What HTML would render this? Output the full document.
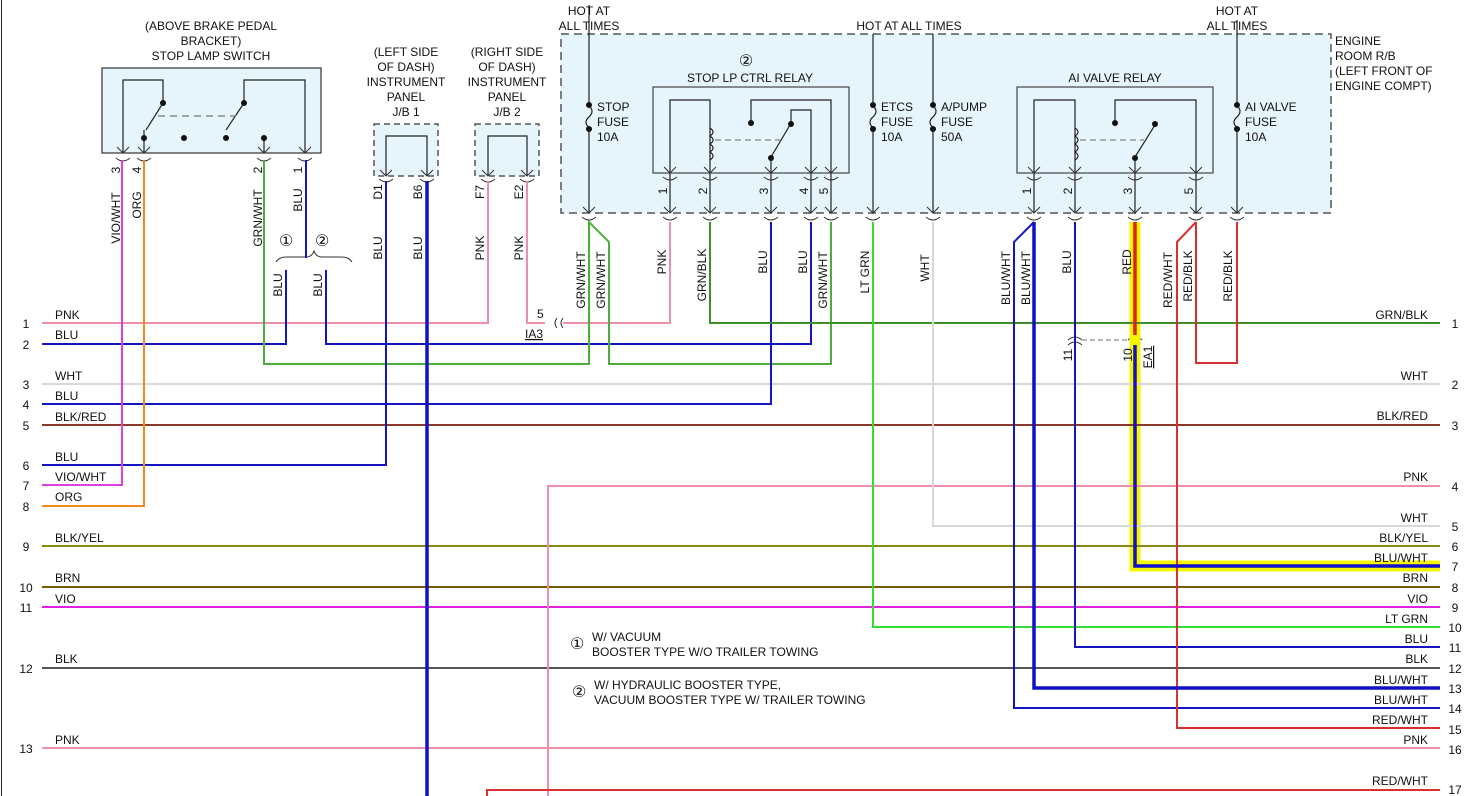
<!DOCTYPE html>
<html><head><style>
html,body{margin:0;padding:0;background:#fff;}
svg{display:block;font-family:"Liberation Sans",sans-serif;}
text{font-size:12px;fill:#111;}
.c{font-size:16px;}
</style></head><body>
<svg width="1468" height="796" viewBox="0 0 1468 796" xmlns="http://www.w3.org/2000/svg">
<rect x="0" y="0" width="1468" height="796" fill="#fff"/>
<line x1="1.5" y1="0" x2="1.5" y2="796" stroke="#222" stroke-width="1"/>

<rect x="102" y="68" width="219" height="85" fill="#e6f4fb" stroke="#333" stroke-width="1.2"/>
<rect x="374" y="124" width="64" height="52" fill="#e6f4fb" stroke="#555" stroke-width="1.5" stroke-dasharray="6,4"/>
<rect x="475" y="124" width="64" height="52" fill="#e6f4fb" stroke="#555" stroke-width="1.5" stroke-dasharray="6,4"/>
<rect x="561" y="34" width="770" height="179" fill="#e6f4fb" stroke="#555" stroke-width="1.5" stroke-dasharray="8,5"/>
<rect x="653" y="87" width="196" height="86" fill="#e6f4fb" stroke="#444" stroke-width="1.2"/>
<rect x="1017" y="87" width="196" height="86" fill="#e6f4fb" stroke="#444" stroke-width="1.2"/>

<g stroke="#222" stroke-width="1.2" fill="none">
<path d="M123 153 V80 H163 V103"/><path d="M163 103 L146 130"/>
<path d="M305 153 V80 H244 V103"/><path d="M244 103 L226 130"/>
<path d="M144 130 V153"/><path d="M264 138 V153"/>
<line x1="158" y1="116" x2="236" y2="116" stroke-dasharray="7,5" stroke="#777"/>
<path d="M386 176 V136 H427 V176"/><path d="M488 176 V136 H527 V176"/>
<line x1="589" y1="5" x2="589" y2="213"/><line x1="873" y1="34" x2="873" y2="213"/>
<line x1="933" y1="34" x2="933" y2="213"/><line x1="1237" y1="20" x2="1237" y2="213"/>
<path d="M670 213 V100 H710 V213"/>
<path d="M710 128 q6 4 0 8 q6 4 0 8 q6 4 0 8 q6 4 0 8"/>
<path d="M751 123 V100 H831 V213"/><path d="M791 124 V110 H811 V213"/>
<path d="M771 157 L790 125"/><path d="M771 157 V213"/>
<line x1="715" y1="140" x2="780" y2="140" stroke="#888" stroke-dasharray="6,4"/>
<path d="M1034 213 V100 H1075 V213"/>
<path d="M1075 128 q6 4 0 8 q6 4 0 8 q6 4 0 8 q6 4 0 8"/>
<path d="M1115 123 V100 H1196 V213"/>
<path d="M1135 157 L1155 125"/><path d="M1135 157 V213"/>
<line x1="1080" y1="140" x2="1144" y2="140" stroke="#888" stroke-dasharray="6,4"/>
</g>
<g stroke="none"><rect x="585" y="106" width="8" height="22" fill="#e6f4fb"/><rect x="869" y="106" width="8" height="22" fill="#e6f4fb"/><rect x="929" y="106" width="8" height="22" fill="#e6f4fb"/><rect x="1233" y="106" width="8" height="22" fill="#e6f4fb"/></g>
<g stroke="#222" stroke-width="1.2" fill="none">
<path d="M589 106 q6 5 0 11 q-6 5 0 11"/><path d="M873 106 q6 5 0 11 q-6 5 0 11"/><path d="M933 106 q6 5 0 11 q-6 5 0 11"/><path d="M1237 106 q6 5 0 11 q-6 5 0 11"/>
</g>
<g fill="#111">
<circle cx="589" cy="105" r="3"/><circle cx="589" cy="129" r="3"/><circle cx="873" cy="105" r="3"/><circle cx="873" cy="129" r="3"/><circle cx="933" cy="105" r="3"/><circle cx="933" cy="129" r="3"/><circle cx="1237" cy="105" r="3"/><circle cx="1237" cy="129" r="3"/>
<circle cx="163" cy="103" r="3"/><circle cx="244" cy="103" r="3"/><circle cx="144" cy="138" r="3"/><circle cx="184" cy="138" r="3"/><circle cx="226" cy="138" r="3"/><circle cx="264" cy="138" r="3"/>
<circle cx="751" cy="123" r="3"/><circle cx="791" cy="124" r="3"/><circle cx="771" cy="158" r="3"/>
<circle cx="1115" cy="123" r="3"/><circle cx="1155" cy="124" r="3"/><circle cx="1135" cy="158" r="3"/>
</g>

<g stroke="#333" stroke-width="1" fill="none">
<path d="M117 147 L123 153 L129 147 M138 147 L144 153 L150 147 M258 147 L264 153 L270 147 M299 147 L305 153 L311 147"/>
<path d="M116 158 q7 6 14 0 M137 158 q7 6 14 0 M257 158 q7 6 14 0 M298 158 q7 6 14 0"/>
<path d="M380 170 L386 176 L392 170 M421 170 L427 176 L433 170 M482 170 L488 176 L494 170 M521 170 L527 176 L533 170"/>
<path d="M379 179 q7 6 14 0 M420 179 q7 6 14 0 M481 179 q7 6 14 0 M520 179 q7 6 14 0"/>
<path d="M664 167 L670 173 L676 167 M704 167 L710 173 L716 167 M765 167 L771 173 L777 167 M805 167 L811 173 L817 167 M825 167 L831 173 L837 167"/>
<path d="M663 177 q7 6 14 0 M703 177 q7 6 14 0 M764 177 q7 6 14 0 M804 177 q7 6 14 0 M824 177 q7 6 14 0"/>
<path d="M1028 167 L1034 173 L1040 167 M1069 167 L1075 173 L1081 167 M1129 167 L1135 173 L1141 167 M1190 167 L1196 173 L1202 167"/>
<path d="M1027 177 q7 6 14 0 M1068 177 q7 6 14 0 M1128 177 q7 6 14 0 M1189 177 q7 6 14 0"/>
<path d="M583 207 l6 6 l6 -6 M664 207 l6 6 l6 -6 M704 207 l6 6 l6 -6 M765 207 l6 6 l6 -6 M805 207 l6 6 l6 -6 M825 207 l6 6 l6 -6 M867 207 l6 6 l6 -6 M927 207 l6 6 l6 -6 M1028 207 l6 6 l6 -6 M1069 207 l6 6 l6 -6 M1129 207 l6 6 l6 -6 M1190 207 l6 6 l6 -6 M1231 207 l6 6 l6 -6"/>
<path d="M582 217 q7 6 14 0 M663 217 q7 6 14 0 M703 217 q7 6 14 0 M764 217 q7 6 14 0 M804 217 q7 6 14 0 M824 217 q7 6 14 0 M866 217 q7 6 14 0 M926 217 q7 6 14 0 M1027 217 q7 6 14 0 M1068 217 q7 6 14 0 M1128 217 q7 6 14 0 M1189 217 q7 6 14 0 M1230 217 q7 6 14 0"/>
<path d="M276 262 q3 -5 10 -5 h20 q6 0 8 -6 q2 6 8 6 h20 q7 0 10 5"/>
<path d="M1068 340 q7 -6 14 0 M1068 345 q7 -6 14 0 M1128 340 q7 -6 14 0"/>
<line x1="1082" y1="340" x2="1128" y2="340" stroke="#777" stroke-dasharray="5,3"/>
<path d="M557 318 q-4 5 0 10 M563 318 q-4 5 0 10"/>
</g>

<path d="M1135 222 V566 H1440" stroke="#f5f500" stroke-width="11" fill="none"/>

<g fill="none" stroke-width="2">
<path d="M42 323 H488 V181" stroke="#ee8fa8"/>
<path d="M527 181 V323 H545" stroke="#ee8fa8"/>
<path d="M563 323 H670 V222" stroke="#ee8fa8"/>
<path d="M42 344 H286 V270" stroke="#1515c0"/>
<path d="M306 160 V258" stroke="#1515c0"/>
<path d="M326 270 V344 H811 V222" stroke="#1515c0"/>
<path d="M264 160 V364 H589 V222 L609 242 V364 H831 V222" stroke="#4caf3a"/>
<line x1="42" y1="384" x2="1440" y2="384" stroke="#d8d8d8"/>
<path d="M42 404 H771 V222" stroke="#1515c0"/>
<line x1="42" y1="425" x2="1440" y2="425" stroke="#8b3a2a"/>
<path d="M42 465 H386 V181" stroke="#1515c0"/>
<path d="M42 485 H122 V160" stroke="#e040e0"/>
<path d="M42 506 H144 V160" stroke="#ee8a20"/>
<line x1="42" y1="546" x2="1440" y2="546" stroke="#8a8a10"/>
<line x1="42" y1="587" x2="1440" y2="587" stroke="#7a5a00"/>
<line x1="42" y1="607" x2="1440" y2="607" stroke="#e020e0"/>
<line x1="42" y1="668" x2="1440" y2="668" stroke="#555"/>
<line x1="42" y1="748" x2="1440" y2="748" stroke="#ee8fa8"/>
<path d="M548 796 V486 H1440" stroke="#ee8fa8"/>
<path d="M487 796 V790 H1440" stroke="#d83030"/>
<path d="M710 222 V323 H1440" stroke="#3f8f2a"/>
<path d="M933 222 V526 H1440" stroke="#d8d8d8"/>
<path d="M873 222 V627 H1440" stroke="#33dd33"/>
<path d="M1075 222 V647 H1440" stroke="#1515c0"/>
<path d="M1034 222 L1014 242 V708 H1440" stroke="#1515c0"/>
<path d="M1196 222 L1177 242 V728 H1440" stroke="#d83030"/>
<path d="M1196 222 V363 H1237 V222" stroke="#d83030"/>
<path d="M1034 222 V688 H1440" stroke="#1010c8" stroke-width="3.5"/>
<path d="M427 181 V796" stroke="#1010c8" stroke-width="3.5"/>
<path d="M1135 222 V335" stroke="#e02020" stroke-width="3.5"/>
<path d="M1135 345 V566 H1440" stroke="#1010c8" stroke-width="3.5"/>
</g>

<g text-anchor="middle">
<text x="211" y="30">(ABOVE BRAKE PEDAL</text><text x="211" y="45">BRACKET)</text><text x="211" y="60">STOP LAMP SWITCH</text>
<text x="406" y="56">(LEFT SIDE</text><text x="406" y="71">OF DASH)</text><text x="406" y="86">INSTRUMENT</text><text x="406" y="101">PANEL</text><text x="406" y="116">J/B 1</text>
<text x="507" y="56">(RIGHT SIDE</text><text x="507" y="71">OF DASH)</text><text x="507" y="86">INSTRUMENT</text><text x="507" y="101">PANEL</text><text x="507" y="116">J/B 2</text>
<text x="589" y="15">HOT AT</text><text x="589" y="30">ALL TIMES</text>
<text x="909" y="30">HOT AT ALL TIMES</text>
<text x="1237" y="15">HOT AT</text><text x="1237" y="30">ALL TIMES</text>
<text x="750" y="82">STOP LP CTRL RELAY</text>
<text x="1115" y="82">AI VALVE RELAY</text>
<text x="746" y="66" class="c">②</text>
</g>
<text x="1335" y="45">ENGINE</text><text x="1335" y="60">ROOM R/B</text><text x="1335" y="75">(LEFT FRONT OF</text><text x="1335" y="90">ENGINE COMPT)</text>
<text x="597" y="111">STOP</text><text x="597" y="126">FUSE</text><text x="597" y="141">10A</text>
<text x="881" y="111">ETCS</text><text x="881" y="126">FUSE</text><text x="881" y="141">10A</text>
<text x="941" y="111">A/PUMP</text><text x="941" y="126">FUSE</text><text x="941" y="141">50A</text>
<text x="1245" y="111">AI VALVE</text><text x="1245" y="126">FUSE</text><text x="1245" y="141">10A</text>
<text x="279" y="246" class="c">①</text><text x="315" y="246" class="c">②</text>
<text x="537" y="318">5</text><text x="525" y="338" text-decoration="underline">IA3</text>

<g text-anchor="middle">
<text transform="translate(120,170) rotate(-90)">3</text>
<text transform="translate(141,170) rotate(-90)">4</text>
<text transform="translate(262,170) rotate(-90)">2</text>
<text transform="translate(302,170) rotate(-90)">1</text>
<text transform="translate(120,218) rotate(-90)">VIO/WHT</text>
<text transform="translate(141,205) rotate(-90)">ORG</text>
<text transform="translate(262,218) rotate(-90)">GRN/WHT</text>
<text transform="translate(302,200) rotate(-90)">BLU</text>
<text transform="translate(282,285) rotate(-90)">BLU</text>
<text transform="translate(322,285) rotate(-90)">BLU</text>
<text transform="translate(382,192) rotate(-90)">D1</text>
<text transform="translate(422,192) rotate(-90)">B6</text>
<text transform="translate(484,192) rotate(-90)">F7</text>
<text transform="translate(523,192) rotate(-90)">E2</text>
<text transform="translate(382,248) rotate(-90)">BLU</text>
<text transform="translate(422,248) rotate(-90)">BLU</text>
<text transform="translate(484,248) rotate(-90)">PNK</text>
<text transform="translate(523,248) rotate(-90)">PNK</text>
<text transform="translate(667,191) rotate(-90)">1</text>
<text transform="translate(707,191) rotate(-90)">2</text>
<text transform="translate(768,191) rotate(-90)">3</text>
<text transform="translate(808,191) rotate(-90)">4</text>
<text transform="translate(828,191) rotate(-90)">5</text>
<text transform="translate(1031,191) rotate(-90)">1</text>
<text transform="translate(1072,191) rotate(-90)">2</text>
<text transform="translate(1132,191) rotate(-90)">3</text>
<text transform="translate(1193,191) rotate(-90)">5</text>
<text transform="translate(585,280) rotate(-90)">GRN/WHT</text>
<text transform="translate(605,280) rotate(-90)">GRN/WHT</text>
<text transform="translate(666,262) rotate(-90)">PNK</text>
<text transform="translate(706,275) rotate(-90)">GRN/BLK</text>
<text transform="translate(767,262) rotate(-90)">BLU</text>
<text transform="translate(807,262) rotate(-90)">BLU</text>
<text transform="translate(827,280) rotate(-90)">GRN/WHT</text>
<text transform="translate(869,272) rotate(-90)">LT GRN</text>
<text transform="translate(929,268) rotate(-90)">WHT</text>
<text transform="translate(1010,278) rotate(-90)">BLU/WHT</text>
<text transform="translate(1030,278) rotate(-90)">BLU/WHT</text>
<text transform="translate(1071,262) rotate(-90)">BLU</text>
<text transform="translate(1131,262) rotate(-90)">RED</text>
<text transform="translate(1172,280) rotate(-90)">RED/WHT</text>
<text transform="translate(1192,276) rotate(-90)">RED/BLK</text>
<text transform="translate(1232,276) rotate(-90)">RED/BLK</text>
<text transform="translate(1072,355) rotate(-90)">11</text>
<text transform="translate(1132,355) rotate(-90)">10</text>
<text transform="translate(1152,357) rotate(-90)" text-decoration="underline">EA1</text>
</g>

<g text-anchor="middle">
<text x="26" y="328">1</text><text x="26" y="349">2</text><text x="26" y="389">3</text><text x="26" y="409">4</text><text x="26" y="430">5</text><text x="26" y="470">6</text><text x="26" y="490">7</text><text x="26" y="511">8</text><text x="26" y="551">9</text><text x="26" y="592">10</text><text x="26" y="612">11</text><text x="26" y="673">12</text><text x="26" y="753">13</text>
<text x="1455" y="328">1</text><text x="1455" y="389">2</text><text x="1455" y="430">3</text><text x="1455" y="491">4</text><text x="1455" y="531">5</text><text x="1455" y="551">6</text><text x="1455" y="571">7</text><text x="1455" y="592">8</text><text x="1455" y="612">9</text><text x="1455" y="632">10</text><text x="1455" y="652">11</text><text x="1455" y="673">12</text><text x="1455" y="693">13</text><text x="1455" y="713">14</text><text x="1455" y="734">15</text><text x="1455" y="754">16</text><text x="1455" y="794">17</text>
</g>
<text x="55" y="319">PNK</text><text x="55" y="339">BLU</text><text x="55" y="380">WHT</text><text x="55" y="400">BLU</text><text x="55" y="421">BLK/RED</text><text x="55" y="461">BLU</text><text x="55" y="481">VIO/WHT</text><text x="55" y="501">ORG</text><text x="55" y="542">BLK/YEL</text><text x="55" y="582">BRN</text><text x="55" y="603">VIO</text><text x="55" y="663">BLK</text><text x="55" y="744">PNK</text>
<g text-anchor="end">
<text x="1428" y="319">GRN/BLK</text><text x="1428" y="380">WHT</text><text x="1428" y="420">BLK/RED</text><text x="1428" y="481">PNK</text><text x="1428" y="522">WHT</text><text x="1428" y="542">BLK/YEL</text><text x="1428" y="562">BLU/WHT</text><text x="1428" y="582">BRN</text><text x="1428" y="603">VIO</text><text x="1428" y="623">LT GRN</text><text x="1428" y="643">BLU</text><text x="1428" y="663">BLK</text><text x="1428" y="684">BLU/WHT</text><text x="1428" y="704">BLU/WHT</text><text x="1428" y="724">RED/WHT</text><text x="1428" y="744">PNK</text><text x="1428" y="785">RED/WHT</text>
</g>
<text x="570" y="649" class="c">①</text><text x="592" y="641">W/ VACUUM</text><text x="592" y="656">BOOSTER TYPE W/O TRAILER TOWING</text>
<text x="572" y="697" class="c">②</text><text x="594" y="689">W/ HYDRAULIC BOOSTER TYPE,</text><text x="594" y="704">VACUUM BOOSTER TYPE W/ TRAILER TOWING</text>
</svg>
</body></html>
